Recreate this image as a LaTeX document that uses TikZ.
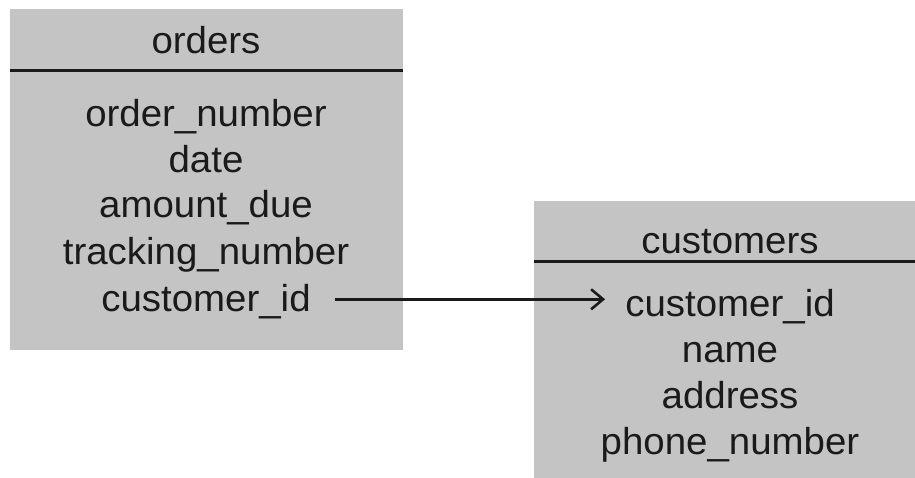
\documentclass[tikz,border=0pt]{standalone}
\usepackage{fontspec}
\setmainfont[FakeStretch=1.025]{Liberation Sans}
\usetikzlibrary{arrows.meta,calc}
\definecolor{tablefill}{HTML}{C4C4C4}
\definecolor{ink}{HTML}{1A1A1A}
\begin{document}
\begin{tikzpicture}[x=1pt,y=1pt,
  tablebox/.style={fill=tablefill,draw=none},
  rule/.style={draw=ink,line width=2.6pt},
  field/.style={anchor=base,inner sep=0pt,text=ink,font=\fontsize{37.5}{40}\selectfont},
  link/.style={draw=ink,line width=2.6pt,-{Straight Barb[length=12pt,width=20pt,line width=2.6pt]}}]
  \useasboundingbox (0,0) rectangle (915,478);
  \begin{scope}
    \clip (0,0) rectangle (915,478);
    % orders table
    \path[tablebox] (9.5,127.5) rectangle (403,468.5);
    \draw[rule] (9.5,407.3) -- (403,407.3);
    % customers table
    \path[tablebox] (534,-5) rectangle (926,277);
    \draw[rule] (534,216.3) -- (926,216.3);
  \end{scope}

  \node[field] (oh)   at (206,424.7) {orders};
  \node[field] (onum) at (206,351.3) {order\_number};
  \node[field] (odat) at (206,305.3) {date};
  \node[field] (oamt) at (206,260.0) {amount\_due};
  \node[field] (otrk) at (206,213.0) {tracking\_number};
  \node[field] (ocid) at (206,166.3) {customer\_id};

  \node[field] (ch)   at (730,224.7) {customers};
  \node[field] (ccid) at (730,161.3) {customer\_id};
  \node[field] (cnam) at (730,115.0) {name};
  \node[field] (cadr) at (730,69.0)  {address};
  \node[field] (cph)  at (730,23.0)  {phone\_number};

  \coordinate (from) at ($(ocid.base east)+(24,12.4)$);
  \coordinate (to)   at ($(ccid.base west)+(-20,17.4)$);
  \draw[link] (from) -- (to |- from);
\end{tikzpicture}
\end{document}
